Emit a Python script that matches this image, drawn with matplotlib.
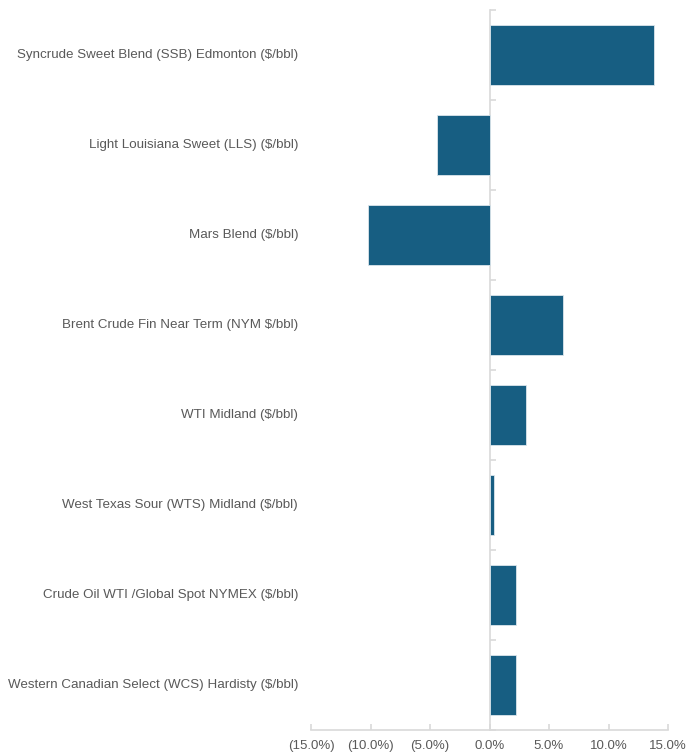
import numpy as np
import matplotlib.pyplot as plt
from matplotlib.ticker import FuncFormatter

plt.rcParams['font.family'] = ['Liberation Sans', 'DejaVu Sans']

categorias = [
    "Syncrude Sweet Blend (SSB) Edmonton ($/bbl)",
    "Light Louisiana Sweet (LLS) ($/bbl)",
    "Mars Blend ($/bbl)",
    "Brent Crude Fin Near Term (NYM $/bbl)",
    "WTI Midland ($/bbl)",
    "West Texas Sour (WTS) Midland ($/bbl)",
    "Crude Oil WTI /Global Spot NYMEX ($/bbl)",
    "Western Canadian Select (WCS) Hardisty ($/bbl)",
]
variacao = [13.8, -4.4, -10.2, 6.2, 3.1, 0.4, 2.2, 2.2]
xticks = [-15, -10, -5, 0, 5, 10, 15]

cor_barra = "#175E82"
cor_eixo = "#D9D9D9"
cor_texto = "#595959"

fig = plt.figure(figsize=(6.86, 7.56), dpi=100)
ax = fig.add_axes([311/686, 26/756, 357/686, 720/756])

pos = np.arange(len(categorias))
ax.barh(pos, variacao, height=0.667, color=cor_barra, edgecolor="#DCE6EC", linewidth=0.6, zorder=3)

ax.set_ylim(len(categorias) - 0.5, -0.5)
ax.set_xlim(-15, 15)

# eixo vertical no zero
ax.spines['left'].set_position(('data', 0))
ax.spines['left'].set_color(cor_eixo)
ax.spines['left'].set_linewidth(1.2)
ax.spines['bottom'].set_color(cor_eixo)
ax.spines['bottom'].set_linewidth(1.2)
ax.spines['top'].set_visible(False)
ax.spines['right'].set_visible(False)

ax.set_yticks(pos)
ax.set_yticklabels([])
ax.tick_params(axis='y', which='major', length=0)
ax.set_yticks(np.arange(-0.5, len(categorias), 1), minor=True)
ax.tick_params(axis='y', which='minor', direction='in', length=4, color=cor_eixo, width=1.2)

for i, nome in enumerate(categorias):
    ax.text(-0.036, i, nome, transform=ax.get_yaxis_transform(), ha='right', va='center',
            fontsize=9.6, color=cor_texto)

ax.set_xticks(xticks)
ax.xaxis.set_major_formatter(FuncFormatter(lambda v, p: f"({abs(v):.1f}%)" if v < 0 else f"{v:.1f}%"))
ax.tick_params(axis='x', direction='in', length=4, color=cor_eixo, width=1.2,
               labelsize=9.5, labelcolor=cor_texto, pad=7)

plt.savefig("out.png")
plt.close()
